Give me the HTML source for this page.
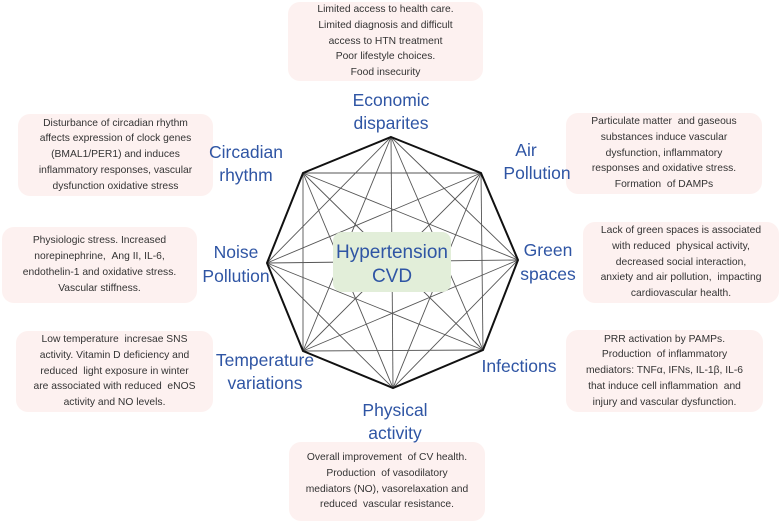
<!DOCTYPE html>
<html><head><meta charset="utf-8"><style>
body{margin:0;width:781px;height:524px;background:#fff;overflow:hidden;position:relative;font-family:"Liberation Sans",sans-serif}
.b{position:absolute;background:#fdf1f0;border-radius:12px;color:#333;font-size:10.3px;line-height:15.8px;text-align:center;display:flex;flex-direction:column;justify-content:center;box-sizing:border-box}
svg{position:absolute;left:0;top:0}
</style></head><body>
<div class="b" style="left:288px;top:2px;width:195px;height:79px">Limited access to health care.<br>Limited diagnosis and difficult<br>access to HTN treatment<br>Poor lifestyle choices.<br>Food insecurity</div>
<div class="b" style="left:18px;top:114px;width:195px;height:82px">Disturbance of circadian rhythm<br>affects expression of clock genes<br>(BMAL1/PER1) and induces<br>inflammatory responses, vascular<br>dysfunction oxidative stress</div>
<div class="b" style="left:2px;top:227px;width:195px;height:76px">Physiologic stress. Increased<br>norepinephrine, &nbsp;Ang II, IL-6,<br>endothelin-1 and oxidative stress.<br>Vascular stiffness.</div>
<div class="b" style="left:16px;top:331px;width:197px;height:81px">Low temperature &nbsp;incresae SNS<br>activity. Vitamin D deficiency and<br>reduced &nbsp;light exposure in winter<br>are associated with reduced &nbsp;eNOS<br>activity and NO levels.</div>
<div class="b" style="left:566px;top:113px;width:196px;height:81px">Particulate matter &nbsp;and gaseous<br>substances induce vascular<br>dysfunction, inflammatory<br>responses and oxidative stress.<br>Formation &nbsp;of DAMPs</div>
<div class="b" style="left:583px;top:222px;width:196px;height:81px">Lack of green spaces is associated<br>with reduced &nbsp;physical activity,<br>decreased social interaction,<br>anxiety and air pollution, &nbsp;impacting<br>cardiovascular health.</div>
<div class="b" style="left:566px;top:330px;width:197px;height:82px">PRR activation by PAMPs.<br>Production &nbsp;of inflammatory<br>mediators: TNFα, IFNs, IL-1β, IL-6<br>that induce cell inflammation &nbsp;and<br>injury and vascular dysfunction.</div>
<div class="b" style="left:289px;top:442px;width:196px;height:79px">Overall improvement &nbsp;of CV health.<br>Production &nbsp;of vasodilatory<br>mediators (NO), vasorelaxation and<br>reduced &nbsp;vascular resistance.</div>
<svg width="781" height="524" viewBox="0 0 781 524">
<g stroke="#555" stroke-width="0.9" fill="none" id="ch"></g>
<polygon points="391,137 481,173 518,260 483,350 393,388 303,351 267,263 303,173" fill="none" stroke="#111" stroke-width="2"/>
<rect x="333" y="232" width="118" height="60" rx="9" fill="#e2eed9"/>
<g fill="#2f55a4" font-family="Liberation Sans, sans-serif" font-size="17.5" text-anchor="middle">
<text x="391" y="106">Economic</text><text x="391" y="129">disparites</text>
<text x="246" y="158">Circadian</text><text x="246" y="181">rhythm</text>
<text x="526" y="156">Air</text><text x="537" y="179">Pollution</text>
<text x="236" y="258">Noise</text><text x="236" y="282">Pollution</text>
<text x="548" y="256">Green</text><text x="548" y="280">spaces</text>
<text x="265" y="366">Temperature</text><text x="265" y="389">variations</text>
<text x="519" y="372">Infections</text>
<text x="395" y="416">Physical</text><text x="395" y="439">activity</text>
<text x="392" y="258" font-size="19">Hypertension</text><text x="392" y="282" font-size="19">CVD</text>
</g>
</svg>
<script>
var p=[[391,137],[481,173],[518,260],[483,350],[393,388],[303,351],[267,263],[303,173]],g=document.getElementById('ch'),s='';
for(var i=0;i<8;i++)for(var j=i+2;j<8;j++){if(i==0&&j==7)continue;s+='<line x1="'+p[i][0]+'" y1="'+p[i][1]+'" x2="'+p[j][0]+'" y2="'+p[j][1]+'"/>';}
g.innerHTML=s;
</script>
</body></html>
